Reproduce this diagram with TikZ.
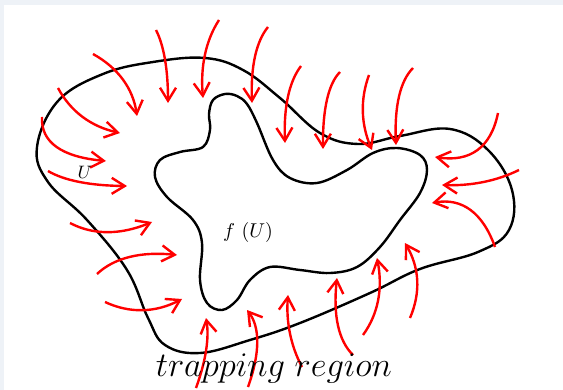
\documentclass[tikz,border=0pt]{standalone}
\usepackage{amsmath,amssymb}
\usepackage{tikz}
\usepackage{xcolor}
\usetikzlibrary{arrows.meta,calc}
\definecolor{trapred}{HTML}{FF0000}
\definecolor{framegrey}{HTML}{EEF2F7}
\begin{document}
\begin{tikzpicture}[x=0.5pt,y=-0.5pt,
    courbe/.style={black,very thick},
    fleche/.style={trapred,very thick,-{Straight Barb[length=6.5pt,width=8pt]}}]
  % fond
  \useasboundingbox (0,0) rectangle (563,390);
  \fill[framegrey] (0,0) rectangle (563,390);
  \fill[white] (4,5) rectangle (563,390);
  % U
  \draw[courbe] plot[smooth cycle,tension=0.65] coordinates {
    (37,147) (58,101) (103,74) (153,62) (205,58) (243,70) (280,98)
    (320,133) (358,144) (400,136) (450,129) (488,150) (512,190) (509,230)
    (478,252) (420,269) (370,293) (300,323) (250,340) (200,353) (165,345)
    (148,318) (127,270) (87,220) (48,182)};
  % f(U)
  \draw[courbe] plot[smooth cycle,tension=0.6] coordinates {
    (225,94) (213,100) (209,114) (210,130) (203,147) (180,152) (160,160)
    (155,177) (167,197) (193,220) (202,243) (200,280) (207,303) (222,310)
    (237,300) (250,280) (270,267) (300,270) (330,273) (357,267) (380,247)
    (400,220) (420,193) (427,170) (420,155) (397,148) (373,153) (347,170)
    (317,183) (290,178) (273,160) (257,123) (247,104) (237,96)};
  % fleches vers l'interieur (debut / milieu / fin)
  \foreach \sx/\sy/\mx/\my/\ex/\ey in {
      93/54/123/80/137/116, 156/30/165/60/168/103,
      219/20/205/55/203/98, 268/27/255/57/252/103,
      301/66/288/97/285/143, 340/72/327/100/323/149,
      369/75/363/112/372/150, 413/68/399/97/396/145,
      498/113/477/150/435/157, 519/170/483/182/442/185,
      495/247/470/210/432/203, 410/318/417/280/405/243,
      363/335/378/300/377/258, 353/355/338/325/337/278,
      302/367/290/333/288/295, 248/387/257/342/247/310,
      196/388/206/350/206/318, 105/302/143/310/182/299,
      97/274/130/257/177/255, 70/223/108/232/152/222,
      48/171/80/182/127/186, 42/117/57/147/106/161,
      58/88/83/117/120/133}
  {
    \pgfmathsetmacro\cx{2*\mx-(\sx+\ex)/2}
    \pgfmathsetmacro\cy{2*\my-(\sy+\ey)/2}
    \draw[fleche] (\sx,\sy) .. controls ($(\sx,\sy)!0.667!(\cx,\cy)$)
      and ($(\ex,\ey)!0.667!(\cx,\cy)$) .. (\ex,\ey);
  }
  % etiquettes
  \node[font=\fontsize{9.5}{11}\selectfont] (lblU) at (85,172) {$U$};
  \node[font=\fontsize{10}{12}\selectfont] (lblfU) at (248,232) {$f\ (U)$};
  \node[font=\fontsize{16}{18}\selectfont] (lblregion) at (274,369) {$trapping~region$};
\end{tikzpicture}
\end{document}
